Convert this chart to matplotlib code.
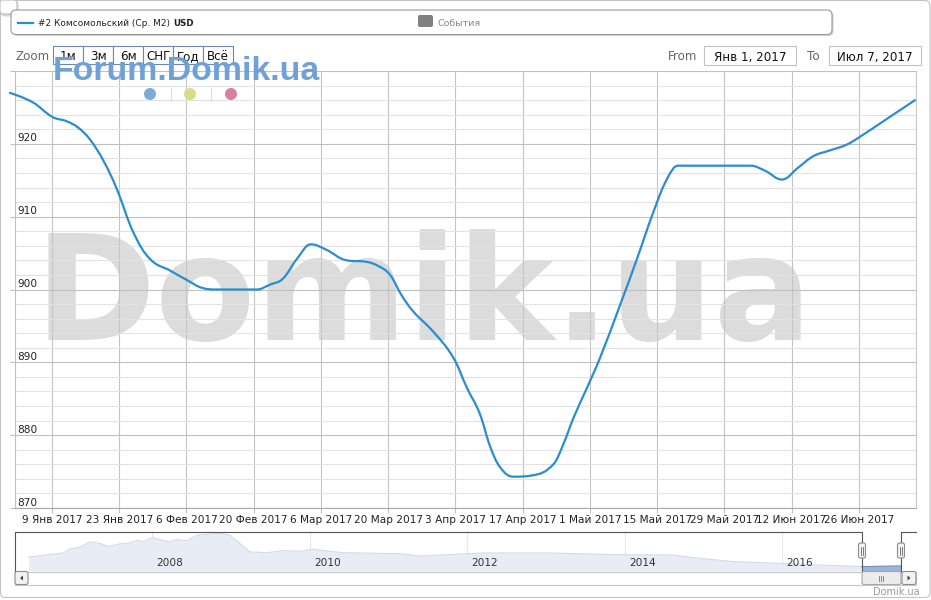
import datetime as dt
import matplotlib
matplotlib.use("Agg")
import matplotlib.pyplot as plt
from matplotlib.patches import FancyBboxPatch, Polygon, Circle, PathPatch
from matplotlib.path import Path
from matplotlib.lines import Line2D
from matplotlib.transforms import Affine2D, blended_transform_factory

# ---------------- data ----------------
series_name = "#2 Комсомольский (Ср. М2)"
currency = "USD"

# days after 1 Jan 2017 and price, USD per m2
price_days = [-0.75, 4.0, 8.06, 11.06, 13.5, 15.9, 18.7, 21.5, 24.9, 28.4, 32.6, 36.1,
              39.4, 42.0, 50.6, 53.5, 56.1, 59.0, 61.9, 65.0, 69.4, 73.5, 76.0, 78.4,
              80.8, 83.2, 87.4, 91.6, 94.4, 97.1, 99.2, 101.3, 104.1, 108.2, 112.4,
              114.5, 116.6, 119.4, 122.1, 126.3, 129.8, 133.2, 136.0, 138.4, 153.4,
              156.5, 160.0, 163.3, 166.5, 170.0, 173.5, 176.3, 182.0, 187.7]
price_values = [927.0, 925.7, 923.7, 923.1, 922.2, 920.6, 917.7, 913.8, 907.9, 904.2,
                902.6, 901.3, 900.2, 900.0, 900.0, 900.7, 901.5, 904.2, 906.2, 905.5,
                904.0, 903.8, 903.2, 902.0, 899.2, 897.0, 894.2, 890.6, 886.5, 882.9,
                878.5, 875.6, 874.3, 874.5, 876.0, 878.8, 882.4, 886.5, 890.6, 897.9,
                904.2, 910.6, 915.1, 917.0, 917.0, 916.3, 915.1, 916.7, 918.3, 919.1,
                919.9, 921.0, 923.5, 926.0]

tick_days = [8, 22, 36, 50, 64, 78, 92, 106, 120, 134, 148, 162, 176]
month_names = ["Янв", "Фев", "Мар", "Апр", "Май", "Июн", "Июл",
               "Авг", "Сен", "Окт", "Ноя", "Дек"]
y_ticks = [870, 880, 890, 900, 910, 920, 930]

# navigator (whole history)
nav_years = [2006.43, 2006.87, 2006.95, 2007.08, 2007.21, 2007.34, 2007.44, 2007.59,
             2007.72, 2007.81, 2007.88, 2008.0, 2008.22, 2008.31, 2008.44, 2008.57,
             2008.86, 2008.99, 2009.24, 2009.46, 2009.66, 2009.88, 2010.04, 2010.42,
             2011.15, 2011.40, 2012.0, 2012.20, 2013.05, 2013.90, 2014.61, 2014.96,
             2015.37, 2015.80, 2016.44, 2017.01, 2017.51]
nav_values = [1297, 1469, 1641, 1710, 1942, 1869, 1740, 1856, 1899, 2011, 1942, 2114,
              1942, 2041, 1985, 2226, 2299, 2213, 1512, 1482, 1568, 1538, 1624, 1482,
              1439, 1340, 1439, 1469, 1469, 1396, 1383, 1237, 1108, 1052, 966, 893, 923]
nav_year_ticks = [2008, 2010, 2012, 2014, 2016]

zoom_buttons = ["1м", "3м", "6м", "СНГ", "Год", "Всё"]
range_from = "Янв 1, 2017"
range_to = "Июл 7, 2017"


def spline_path(xs, ys, smoothing=1.5):
    """Smooth Bezier path through the points (Highcharts-style spline)."""
    n = len(xs)
    denom = smoothing + 1
    left = [None] * n
    right = [None] * n
    for i in range(n):
        x, y = xs[i], ys[i]
        if i == 0 or i == n - 1:
            left[i] = (x, y)
            right[i] = (x, y)
            continue
        lx, ly = xs[i - 1], ys[i - 1]
        nx, ny = xs[i + 1], ys[i + 1]
        lcx = (smoothing * x + lx) / denom
        lcy = (smoothing * y + ly) / denom
        rcx = (smoothing * x + nx) / denom
        rcy = (smoothing * y + ny) / denom
        if rcx != lcx:
            corr = (rcy - lcy) * (rcx - x) / (rcx - lcx) + y - rcy
            lcy += corr
            rcy += corr
        if lcy > ly and lcy > y:
            lcy = max(ly, y); rcy = 2 * y - lcy
        elif lcy < ly and lcy < y:
            lcy = min(ly, y); rcy = 2 * y - lcy
        if rcy > ny and rcy > y:
            rcy = max(ny, y); lcy = 2 * y - rcy
        elif rcy < ny and rcy < y:
            rcy = min(ny, y); lcy = 2 * y - rcy
        left[i] = (lcx, lcy)
        right[i] = (rcx, rcy)
    verts = [(xs[0], ys[0])]
    codes = [Path.MOVETO]
    for i in range(1, n):
        verts += [right[i - 1], left[i], (xs[i], ys[i])]
        codes += [Path.CURVE4] * 3
    return Path(verts, codes)


# ---------------- figure ----------------
W, H = 931, 600
fig = plt.figure(figsize=(W / 100, H / 100), dpi=100, facecolor="white")
plt.rcParams["font.family"] = ["DejaVu Sans"]
PX = Affine2D().scale(1 / W, -1 / H).translate(0, 1) + fig.transFigure


def fbox(x, y, w, h, r=0, **kw):
    style = f"round,pad=0,rounding_size={r}" if r else "square,pad=0"
    p = FancyBboxPatch((x, y), w, h, boxstyle=style, transform=PX, **kw)
    fig.add_artist(p)
    return p


def fline(xs, ys, **kw):
    fig.add_artist(Line2D(xs, ys, transform=PX, **kw))


def ftext(x, y, s, **kw):
    return fig.text(x, y, s, transform=PX, **kw)


# outer border
fbox(0.5, 0.5, 929.5, 597, r=5, facecolor="white", edgecolor="#c4c4c4", lw=0.8, zorder=0)

# ---------------- main axes ----------------
ax = fig.add_axes([15 / W, 1 - 508 / H, (916 - 15) / W, (508 - 71) / H])
ax.set_facecolor("none")
ax.set_axisbelow(True)
ax.set_xlim(0.3, 187.9)
ax.set_ylim(870, 930)

ax.set_yticks(y_ticks)
ax.set_yticks(list(range(870, 931, 2)), minor=True)
ax.grid(axis="y", which="minor", color="#e2e2e2", lw=0.8, zorder=0.5)
ax.grid(axis="y", which="major", color="#c0c0c0", lw=0.8, zorder=0.6)
ax.tick_params(axis="y", which="minor", length=0)
ax.tick_params(axis="y", which="major", length=3.6, color="#c0c0c0", width=0.8,
               labelleft=False)

base = dt.date(2017, 1, 1)
labels = []
for d in tick_days:
    day = base + dt.timedelta(days=d)
    labels.append(f"{day.day} {month_names[day.month - 1]} 2017")
ax.set_xticks(tick_days)
ax.set_xticklabels(labels, fontsize=7.6, color="#222222")
ax.grid(axis="x", which="major", color="#c4c4c4", lw=0.8, zorder=0.6)
ax.tick_params(axis="x", length=3.6, color="#c0c0c0", width=0.8, pad=1.5)

ax.spines["top"].set_visible(False)
ax.spines["left"].set_color("#c0c0c0")
ax.spines["right"].set_color("#c8c8c8")
ax.spines["bottom"].set_color("#a8a8a8")
for s in ["left", "right", "bottom"]:
    ax.spines[s].set_linewidth(0.8)

ytr = blended_transform_factory(ax.transAxes, ax.transData)
for v in y_ticks[:-1]:
    ax.annotate(str(v), xy=(0, v), xycoords=ytr, xytext=(2.5, 2.5),
                textcoords="offset pixels", ha="left", va="baseline",
                fontsize=7.6, color="#222222", zorder=2)

# watermark
ax.text(35 / W, 1 - 340 / H, "Domik.ua", transform=fig.transFigure, fontsize=105,
        fontweight="bold", color="#dcdcdc", ha="left", va="baseline", zorder=0.1)

curve = PathPatch(spline_path(price_days, price_values), transform=ax.transData,
                  facecolor="none", edgecolor="#2b8dcf", lw=1.6, clip_on=False,
                  joinstyle="round", capstyle="round", zorder=3)
ax.add_patch(curve)
ax.plot([], [], color="#2b8dcf", lw=1.6, label=series_name)

# ---------------- navigator ----------------
nav = fig.add_axes([15 / W, 1 - 571 / H, (916 - 15) / W, 40 / H])
nav.set_facecolor("none")
nav.set_xlim(2006.257, 2017.698)
nav.set_ylim(708, 2398)
nav.set_yticks([])
nav.set_xticks(nav_year_ticks)
nav.set_xticklabels([])
nav.tick_params(axis="x", length=0)
nav.grid(axis="x", color="#e6e6e6", lw=0.8)
nav.set_axisbelow(True)
for s in nav.spines.values():
    s.set_visible(False)
nav.fill_between(nav_years, nav_values, 708, color="#e8ecf4", lw=0, zorder=1)
nav.plot(nav_years, nav_values, color="#d2d9e8", lw=0.8, zorder=1.5)
sel_years = [y for y in nav_years if y >= 2017.0]
sel_vals = [v for y, v in zip(nav_years, nav_values) if y >= 2017.0]
nav.fill_between(sel_years, sel_vals, 708, color="#9fb3d4", lw=0, zorder=2)
nav.plot(sel_years, sel_vals, color="#6f8fc2", lw=0.8, zorder=2.5)
for yr in nav_year_ticks:
    nav.annotate(str(yr), xy=(yr, 0), xycoords=("data", "axes fraction"),
                 xytext=(4, 5), textcoords="offset pixels", ha="left", va="baseline",
                 fontsize=7.6, color="#333333")

# navigator outline
fline([15, 15, 862, 862], [571, 531.5, 531.5, 571], color="#555555", lw=0.8, zorder=5)
fline([901, 901, 916], [571, 531.5, 531.5], color="#555555", lw=0.8, zorder=5)
for hx in (862, 901):
    fbox(hx - 3.5, 543, 7, 15, r=2, facecolor="#f4f4f4", edgecolor="#8a8a8a", lw=0.8, zorder=6)
    fline([hx - 1, hx - 1], [546.5, 554.5], color="#666666", lw=0.6, zorder=7)
    fline([hx + 1, hx + 1], [546.5, 554.5], color="#666666", lw=0.6, zorder=7)

# scrollbar
fbox(15, 571.5, 901, 13, facecolor="#ffffff", edgecolor="#c8c8c8", lw=0.8, zorder=4)
fbox(15, 571.5, 13, 13, r=2, facecolor="#f2f2f2", edgecolor="#8c8c8c", lw=0.8, zorder=5)
fig.add_artist(Polygon([[23, 575.5], [23, 580.5], [20, 578]], closed=True, transform=PX,
                       facecolor="#444444", edgecolor="none", zorder=6))
fbox(902, 571.5, 14, 13, r=2, facecolor="#f2f2f2", edgecolor="#8c8c8c", lw=0.8, zorder=5)
fig.add_artist(Polygon([[907.5, 575.5], [907.5, 580.5], [910.5, 578]], closed=True,
                       transform=PX, facecolor="#444444", edgecolor="none", zorder=6))
fbox(862, 571.5, 39, 13, r=2, facecolor="#ececec", edgecolor="#a8a8a8", lw=0.8, zorder=5)
for gx in (879, 881, 883):
    fline([gx, gx], [575.5, 580.5], color="#777777", lw=0.6, zorder=6)

ftext(920, 595, "Domik.ua", fontsize=7, color="#999999", ha="right", va="baseline")

# ---------------- header ----------------
fbox(1.5, 1.5, 17, 15, r=3, facecolor="#d6d6d6", edgecolor="none", zorder=1)
fbox(0, 0, 17, 14, r=3, facecolor="white", edgecolor="#bdbdbd", lw=0.8, zorder=2)

# legend
fbox(12.5, 11.5, 821, 24.5, r=5, facecolor="#cfcfcf", edgecolor="none", zorder=1)
fbox(11, 10, 821, 24.5, r=5, facecolor="white", edgecolor="#9a9a9a", lw=0.8, zorder=2)
fline([18, 33], [22.5, 22.5], color="#2b8dcf", lw=1.6, zorder=3)
name_txt = ftext(38, 26, series_name, fontsize=6.5, color="#222222", ha="left",
                 va="baseline", zorder=3)
renderer = fig.canvas.get_renderer()
name_right = name_txt.get_window_extent(renderer).x1  # display pixels
ftext(name_right + 3, 26, currency, fontsize=6.3, fontweight="bold", color="#222222",
      ha="left", va="baseline", zorder=3)
fbox(418, 15, 15, 12, r=2, facecolor="#808080", edgecolor="none", zorder=3)
ftext(438, 26, "События", fontsize=6.8, color="#888888", ha="left", va="baseline", zorder=3)

# zoom buttons
ftext(16, 60.5, "Zoom", fontsize=8.6, color="#666666", ha="left", va="baseline", zorder=3)
for i, lab in enumerate(zoom_buttons):
    x0 = 53.3 + 30 * i
    fbox(x0, 46.3, 30, 18, facecolor="white", edgecolor="#6c88ad", lw=0.8, zorder=3)
    ftext(x0 + 15, 60.5, lab, fontsize=8.6, color="#111111", ha="center", va="baseline",
          zorder=4)

# date range inputs
ftext(668, 60.5, "From", fontsize=8.6, color="#666666", ha="left", va="baseline")
fbox(704, 46, 92, 19, facecolor="white", edgecolor="#c2c2c2", lw=0.8)
ftext(750, 60.5, range_from, fontsize=8.6, color="#111111", ha="center", va="baseline")
ftext(807, 60.5, "To", fontsize=8.6, color="#666666", ha="left", va="baseline")
fbox(829, 46, 92, 19, facecolor="white", edgecolor="#c2c2c2", lw=0.8)
ftext(875, 60.5, range_to, fontsize=8.6, color="#111111", ha="center", va="baseline")

# forum watermark and dots
ftext(53, 80.5, "Forum.Domik.ua", fontsize=24.4, fontweight="bold",
      family=["Liberation Sans", "DejaVu Sans"], color="#6fa1d8", ha="left",
      va="baseline", zorder=10)
for cx, col in zip((150, 190, 231), ("#7eaad9", "#d9dc86", "#d98199")):
    fig.add_artist(Circle((cx, 94), 6.0, transform=PX, facecolor=col, edgecolor="none",
                          zorder=10))
for sx in (170.5, 210.5):
    fline([sx, sx], [88, 101], color="#dddddd", lw=0.8, zorder=10)

fig.savefig("out.png", dpi=100, facecolor="white")
